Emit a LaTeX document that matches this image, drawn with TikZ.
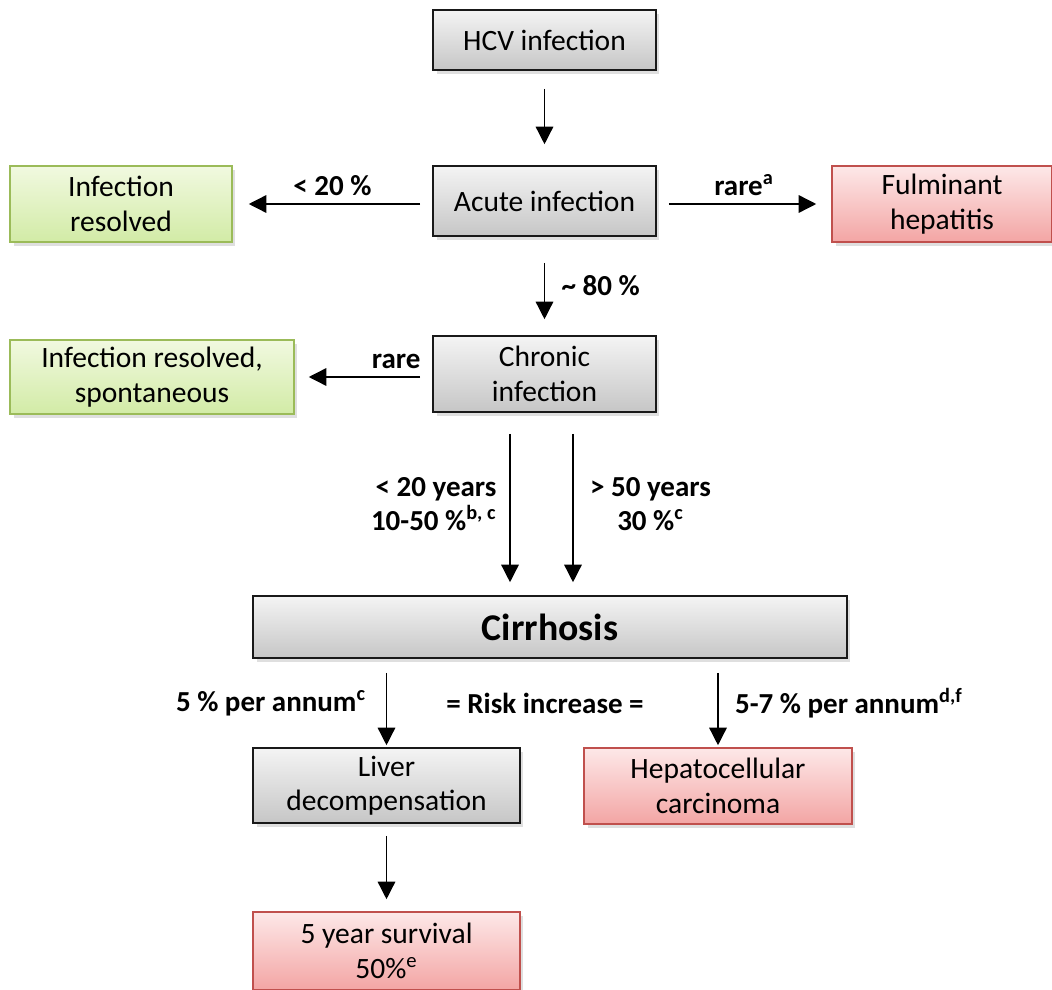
\documentclass[tikz,border=0pt]{standalone}
\usepackage{fontspec}
\setmainfont{Carlito}
\usepackage{xcolor}
\usetikzlibrary{arrows.meta, positioning, shadows}

\definecolor{greytop}{HTML}{F4F4F4}
\definecolor{greybot}{HTML}{C6C6C6}
\definecolor{greentop}{HTML}{F1F9E0}
\definecolor{greenbot}{HTML}{D2EBA6}
\definecolor{greenline}{HTML}{9BBB59}
\definecolor{redtop}{HTML}{FDE8E8}
\definecolor{redbot}{HTML}{F3A5A4}
\definecolor{redline}{HTML}{C0504D}

\begin{document}
\begin{tikzpicture}[x=0.02cm, y=-0.02cm,
    box/.style={rectangle, draw, line width=0.9pt, align=center, inner sep=2pt,
        font=\fontsize{16.8}{19.6}\selectfont,
        drop shadow={shadow xshift=2pt, shadow yshift=-2pt, opacity=0.25}},
    greybox/.style={box, draw=black!90, top color=greytop, bottom color=greybot},
    greenbox/.style={box, draw=greenline, top color=greentop, bottom color=greenbot},
    redbox/.style={box, draw=redline, top color=redtop, bottom color=redbot},
    arrow/.style={-{Triangle[width=10pt, length=10pt]}, line width=0.8pt},
    lbl/.style={font=\fontsize{16.5}{19.6}\selectfont\bfseries, align=center}
]
\useasboundingbox (0,0) rectangle (1052,990);

% Top of the tree
\node[greybox, minimum width=4.46cm, minimum height=1.2cm] (hcv) at (544.5,40) {HCV infection};
\node[greybox, minimum width=4.46cm, minimum height=1.4cm] (acute) at (544.5,201) {Acute infection};

% Acute outcomes
\node[greenbox, minimum width=4.44cm, minimum height=1.52cm] (resolved) at (121,204) {Infection\\resolved};
\node[redbox, minimum width=4.4cm, minimum height=1.52cm] (fulminant) at (942,204) {Fulminant\\hepatitis};

% Chronic stage
\node[greybox, minimum width=4.46cm, minimum height=1.52cm] (chronic) at (544.5,374) {Chronic\\infection};
\node[greenbox, minimum width=5.68cm, minimum height=1.48cm] (spont) at (152,377) {Infection resolved,\\spontaneous};

% Cirrhosis
\node[greybox, minimum width=11.88cm, minimum height=1.24cm, font=\fontsize{21.5}{25}\selectfont\bfseries] (cirrhosis) at (550,627) {Cirrhosis};

% Late outcomes
\node[greybox, minimum width=5.34cm, minimum height=1.5cm] (liver) at (386.5,785.5) {Liver\\decompensation};
\node[redbox, minimum width=5.36cm, minimum height=1.52cm] (hcc) at (718,786) {Hepatocellular\\carcinoma};
\node[redbox, minimum width=5.34cm, minimum height=1.56cm] (survival) at (386.5,951) {5 year survival\\50\%\textsuperscript{e}};

% Arrows
\draw[arrow, shorten <=0.36cm, shorten >=0.42cm] (hcv) -- (acute);
\draw[arrow, shorten <=0.24cm, shorten >=0.32cm] (acute.west |- resolved) -- node[lbl, above=1pt] {< 20 \%} (resolved.east);
\draw[arrow, shorten <=0.24cm, shorten >=0.3cm] (acute.east |- fulminant) -- node[lbl, above=1pt] {rare\textsuperscript{a}} (fulminant.west);
\draw[arrow, shorten <=0.52cm, shorten >=0.32cm] (acute) -- node[lbl, right=6pt] {\textasciitilde{} 80 \%} (chronic);
\draw[arrow, shorten <=0.24cm, shorten >=0.28cm] (chronic.west |- spont) -- node[lbl, pos=0, anchor=south east, xshift=-3pt, yshift=1pt] {rare} (spont.east);

\draw[arrow, shorten <=0.42cm, shorten >=0.26cm] ([xshift=-0.69cm]chronic.south) -- ([xshift=-0.69cm]chronic.south |- cirrhosis.north)
    node[lbl, midway, left=4pt, align=right] {< 20 years\\10-50 \%\textsuperscript{b, c}};
\draw[arrow, shorten <=0.42cm, shorten >=0.26cm] ([xshift=0.57cm]chronic.south) -- ([xshift=0.57cm]chronic.south |- cirrhosis.north)
    node[lbl, midway, right=6pt] {> 50 years\\30 \%\textsuperscript{c}};

\draw[arrow, shorten <=0.28cm, shorten >=0.04cm] (cirrhosis.south -| liver.north) -- (liver.north)
    node[lbl, midway, left=8pt] {5 \% per annum\textsuperscript{c}};
\draw[arrow, shorten <=0.28cm, shorten >=0.04cm] (cirrhosis.south -| hcc.north) -- (hcc.north)
    node[lbl, midway, right=6pt] {5-7 \% per annum\textsuperscript{d,f}};
\node[lbl] (risk) at (545,703) {= Risk increase =};

\draw[arrow, shorten <=0.24cm, shorten >=0.24cm] (liver) -- (survival);

\end{tikzpicture}
\end{document}
